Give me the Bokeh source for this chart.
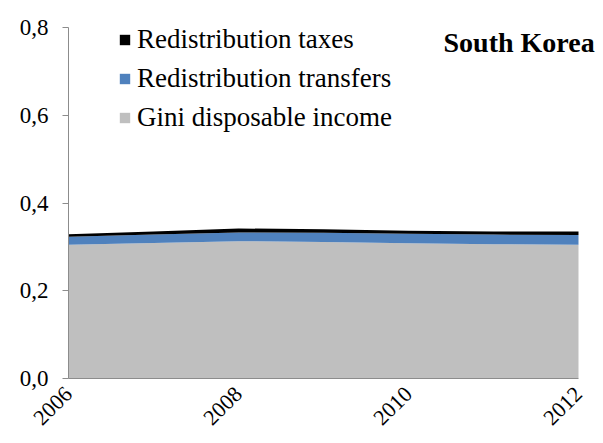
import math
from bokeh.plotting import figure
from bokeh.models import (ColumnDataSource, FixedTicker, CustomJSTickFormatter,
                          Legend, LegendItem, Label, Range1d)
from bokeh.embed import file_html
from bokeh.resources import INLINE

years = [2006, 2007, 2008, 2009, 2010, 2011, 2012]
gini_disposable = [0.305, 0.309, 0.313, 0.311, 0.308, 0.306, 0.305]
redis_transfers = [0.018, 0.019, 0.020, 0.021, 0.022, 0.022, 0.022]
redis_taxes = [0.006, 0.007, 0.009, 0.008, 0.007, 0.007, 0.008]
series_labels = ["Gini disposable income", "Redistribution transfers", "Redistribution taxes"]
series_colors = ["#BFBFBF", "#4F81BD", "#000000"]
y_ticks = [0.0, 0.2, 0.4, 0.6, 0.8]
x_ticks = [2006, 2008, 2010, 2012]
title_text = "South Korea"

FONT = "Liberation Serif"

source = ColumnDataSource(dict(year=years, gini=gini_disposable,
                               transfers=redis_transfers, taxes=redis_taxes))

# frame runs to the right edge so the panel title can run off the edge as in the original
p = figure(width=595, height=435, output_backend="svg", toolbar_location=None,
           x_range=Range1d(2006, 2012.2), y_range=Range1d(0, 0.8))
p.min_border_left = 68
p.min_border_right = 0
p.min_border_top = 27
p.min_border_bottom = 57
p.outline_line_color = None
p.xgrid.grid_line_color = None
p.ygrid.grid_line_color = None

renderers = p.varea_stack(stackers=["gini", "transfers", "taxes"], x="year",
                          color=series_colors, source=source)

items = [LegendItem(label=series_labels[i], renderers=[renderers[i]]) for i in (2, 1, 0)]
legend = Legend(items=items, location=(50, 245), padding=0, margin=0, spacing=8,
                glyph_width=13, glyph_height=13, label_height=30, label_standoff=6,
                label_text_font=FONT, label_text_font_size="27px",
                label_text_color="#000000",
                border_line_color=None, background_fill_alpha=0)
p.add_layout(legend)

axis_color = "#8C8C8C"
p.yaxis.ticker = FixedTicker(ticks=y_ticks)
p.yaxis.formatter = CustomJSTickFormatter(code="return tick.toFixed(1).replace('.', ',');")
p.yaxis.axis_line_color = axis_color
p.yaxis.major_tick_line_color = axis_color
p.yaxis.major_tick_out = 6
p.yaxis.major_tick_in = 0
p.yaxis.minor_tick_line_color = None
p.yaxis.major_label_text_font = FONT
p.yaxis.major_label_text_font_size = "23px"
p.yaxis.major_label_text_color = "#000000"
p.yaxis.major_label_standoff = 14

p.xaxis.ticker = FixedTicker(ticks=x_ticks)
p.xaxis.bounds = (2006, 2012)
p.xaxis.axis_line_color = axis_color
p.xaxis.major_tick_line_color = None
p.xaxis.minor_tick_line_color = None
p.xaxis.major_label_orientation = math.pi / 4
p.xaxis.major_label_text_font = FONT
p.xaxis.major_label_text_font_size = "22px"
p.xaxis.major_label_text_color = "#000000"
p.xaxis.major_label_standoff = 6

p.add_layout(Label(x=443, y=42, x_units="canvas", y_units="canvas", text=title_text,
                   text_font=FONT, text_font_size="28px", text_font_style="bold",
                   text_baseline="middle", text_color="#000000", level="overlay"))
p.add_layout(Label(x=8, y=43, x_units="canvas", y_units="canvas", text="a",
                   text_font=FONT, text_font_size="28px", text_font_style="bold",
                   text_baseline="middle", text_align="right", text_color="#000000",
                   level="overlay"))

open("out.html", "w").write(file_html(p, INLINE))
